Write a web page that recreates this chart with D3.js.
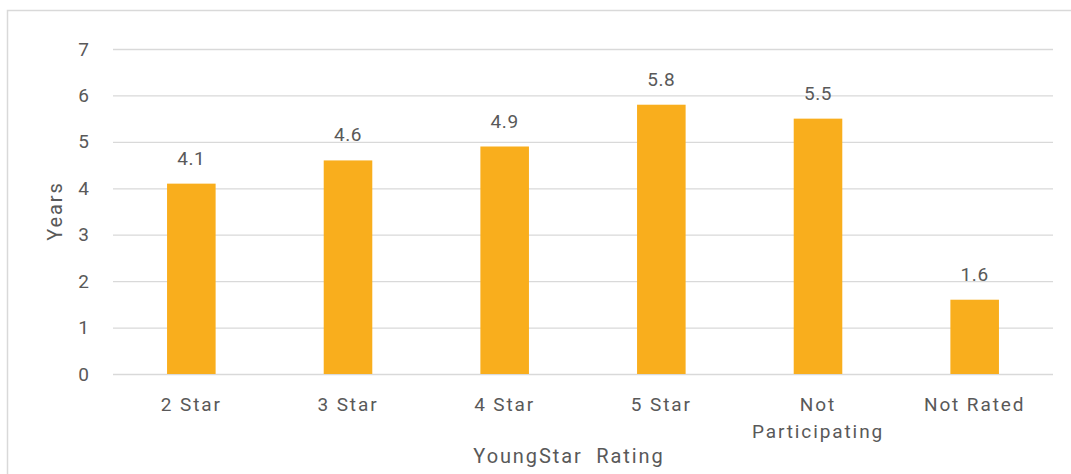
<!DOCTYPE html>
<html>
<head>
<meta charset="utf-8">
<script src="https://cdn.jsdelivr.net/npm/d3@7"></script>
<style>
  html, body { margin: 0; padding: 0; background: #fff; }
  svg { display: block; font-family: Roboto, "Liberation Sans", sans-serif; }
</style>
</head>
<body>
<svg id="chart" width="1071" height="474"></svg>
<script>
// Average years by YoungStar rating
const categories = ["2 Star", "3 Star", "4 Star", "5 Star", "Not Participating", "Not Rated"];
const years = [4.1, 4.6, 4.9, 5.8, 5.5, 1.6];
const yTicks = [0, 1, 2, 3, 4, 5, 6, 7];

const svg = d3.select("#chart");
const W = 1071, H = 474;
const plot = { left: 113, right: 1053, top: 49, bottom: 374 };
const textColor = "#595959";
const gridColor = "#d9d9d9";
const barColor = "#F9AE1D";
const fontSize = 19;
const wordSpacing = "1.9px";
const numSpacing = "0.6px";

// Chart frame
svg.append("path")
  .attr("d", `M7.5,${H} V10.5 H${W}`)
  .attr("fill", "none")
  .attr("stroke", gridColor)
  .attr("stroke-width", 1.5);

const x = d3.scaleBand().domain(categories).range([plot.left, plot.right]).paddingInner(0.69).paddingOuter(0.345);
const y = d3.scaleLinear().domain([0, 7]).range([plot.bottom, plot.top]);

// Gridlines and y tick labels
const yAxis = d3.axisLeft(y).tickValues(yTicks).tickSize(-(plot.right - plot.left)).tickPadding(24).tickFormat(d3.format("d"));
const gy = svg.append("g").attr("transform", `translate(${plot.left},0)`).call(yAxis);
gy.select(".domain").remove();
gy.selectAll(".tick line").attr("stroke", gridColor).attr("stroke-width", 1.3);
gy.selectAll(".tick text").attr("fill", textColor).attr("font-size", fontSize).attr("font-family", "Roboto, sans-serif");

// Bars
svg.append("g").selectAll("rect").data(categories).join("rect")
  .attr("x", d => x(d))
  .attr("width", x.bandwidth())
  .attr("y", (d, i) => y(years[i]))
  .attr("height", (d, i) => y(0) - y(years[i]))
  .attr("fill", barColor);

// Value labels
svg.append("g").selectAll("text").data(categories).join("text")
  .attr("x", d => x(d) + x.bandwidth() / 2)
  .attr("y", (d, i) => y(years[i]) - 19)
  .attr("text-anchor", "middle")
  .attr("fill", textColor)
  .attr("font-size", fontSize)
  .attr("letter-spacing", numSpacing)
  .text((d, i) => d3.format(".1f")(years[i]));

// Category labels (wrapped per word where needed)
const catLines = { "Not Participating": ["Not", "Participating"] };
const gx = svg.append("g");
categories.forEach(c => {
  const cx = x(c) + x.bandwidth() / 2;
  const lines = catLines[c] || [c];
  const t = gx.append("text")
    .attr("x", cx)
    .attr("y", 411)
    .attr("text-anchor", "middle")
    .attr("fill", textColor)
    .attr("font-size", fontSize)
    .attr("letter-spacing", wordSpacing);
  lines.forEach((ln, i) => {
    t.append("tspan").attr("x", cx).attr("dy", i === 0 ? 0 : 27).text(ln);
  });
});

// Axis titles
svg.append("text")
  .attr("x", 569)
  .attr("y", 463)
  .attr("text-anchor", "middle")
  .attr("fill", textColor)
  .attr("font-size", 20)
  .attr("letter-spacing", wordSpacing)
  .attr("xml:space", "preserve")
  .style("white-space", "pre")
  .text("YoungStar  Rating");

svg.append("text")
  .attr("transform", `translate(62,211) rotate(-90)`)
  .attr("text-anchor", "middle")
  .attr("fill", textColor)
  .attr("font-size", 20)
  .attr("letter-spacing", wordSpacing)
  .text("Years");
</script>
</body>
</html>
